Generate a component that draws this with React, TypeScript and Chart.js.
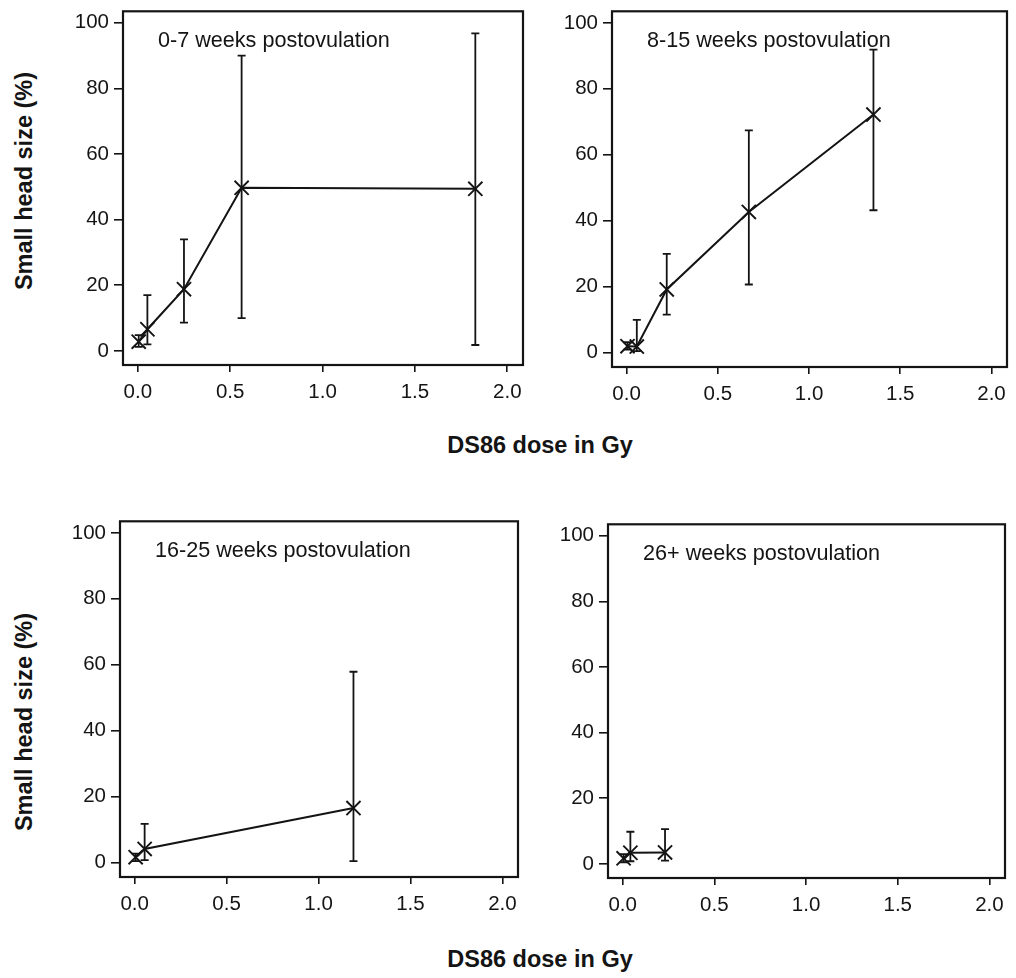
import React, { useEffect, useRef } from "react";
import { Chart, registerables } from "chart.js";

Chart.register(...registerables);

// ---- Data -----------------------------------------------------------
const xTicks = [0, 0.5, 1.0, 1.5, 2.0];
const yTicks = [0, 20, 40, 60, 80, 100];

const panelTitles = [
  "0-7 weeks postovulation",
  "8-15 weeks postovulation",
  "16-25 weeks postovulation",
  "26+ weeks postovulation",
];
const yAxisTitle = "Small head size (%)";
const xAxisTitle = "DS86 dose in Gy";

// 0-7 weeks
const dose0to7 = [0.005, 0.052, 0.25, 0.562, 1.827];
const pct0to7 = [2.8, 6.6, 18.8, 49.7, 49.4];
const lo0to7 = [1.2, 2.0, 8.6, 10.0, 1.8];
const hi0to7 = [4.8, 17.0, 34.0, 90.0, 96.8];

// 8-15 weeks
const dose8to15 = [0.005, 0.056, 0.22, 0.67, 1.353];
const pct8to15 = [2.0, 1.9, 19.2, 42.7, 72.2];
const lo8to15 = [1.0, 0.5, 11.6, 20.7, 43.2];
const hi8to15 = [3.2, 10.0, 30.0, 67.4, 91.9];

// 16-25 weeks
const dose16to25 = [0.005, 0.054, 1.19];
const pct16to25 = [1.7, 4.2, 16.6];
const lo16to25 = [0.5, 0.8, 0.5];
const hi16to25 = [2.8, 11.8, 57.9];

// 26+ weeks
const dose26plus = [0.005, 0.042, 0.231];
const pct26plus = [1.7, 3.4, 3.5];
const lo26plus = [0.5, 0.8, 1.0];
const hi26plus = [3.0, 9.8, 10.6];

// ---- Layout / style ---------------------------------------------------
const X_MIN = -0.08;
const X_MAX = 2.085;
const Y_MIN = -4.3;
const Y_MAX = 103.5;

const INK = "#141414";
const FONT = '"Liberation Sans", Arial, Helvetica, sans-serif';

const PAD_L = 70;
const PAD_T = 16;
const PAD_R = 16;
const PAD_B = 52;

type Frame = { left: number; top: number; w: number; h: number };

interface PanelProps {
  frame: Frame;
  title: string;
  xs: number[];
  ys: number[];
  lo: number[];
  hi: number[];
}

function Panel({ frame, title, xs, ys, lo, hi }: PanelProps) {
  const ref = useRef<HTMLCanvasElement | null>(null);
  const width = frame.w + PAD_L + PAD_R;
  const height = frame.h + PAD_T + PAD_B;

  useEffect(() => {
    if (!ref.current) return;

    const framePlugin = {
      id: "frameBox",
      beforeDatasetsDraw(chart: any) {
        const { ctx, chartArea } = chart;
        ctx.save();
        ctx.strokeStyle = INK;
        ctx.lineWidth = 2.2;
        ctx.strokeRect(
          chartArea.left,
          chartArea.top,
          chartArea.right - chartArea.left,
          chartArea.bottom - chartArea.top
        );
        ctx.restore();
      },
    };

    const errorBarPlugin = {
      id: "errorBars",
      beforeDatasetsDraw(chart: any) {
        const { ctx } = chart;
        const xs_ = chart.scales.x;
        const ys_ = chart.scales.y;
        ctx.save();
        ctx.strokeStyle = INK;
        ctx.lineWidth = 1.8;
        const cap = 4;
        for (let i = 0; i < xs.length; i++) {
          const px = xs_.getPixelForValue(xs[i]);
          const pLo = ys_.getPixelForValue(lo[i]);
          const pHi = ys_.getPixelForValue(hi[i]);
          ctx.beginPath();
          ctx.moveTo(px, pLo);
          ctx.lineTo(px, pHi);
          ctx.moveTo(px - cap, pLo);
          ctx.lineTo(px + cap, pLo);
          ctx.moveTo(px - cap, pHi);
          ctx.lineTo(px + cap, pHi);
          ctx.stroke();
        }
        ctx.restore();
      },
    };

    const titlePlugin = {
      id: "panelTitle",
      afterDraw(chart: any) {
        const { ctx, chartArea } = chart;
        ctx.save();
        ctx.fillStyle = INK;
        ctx.font = `21.6px ${FONT}`;
        ctx.textAlign = "left";
        ctx.textBaseline = "middle";
        ctx.fillText(title, chartArea.left + 35, chartArea.top + 30);
        ctx.restore();
      },
    };

    const chart = new Chart(ref.current, {
      type: "line",
      data: {
        datasets: [
          {
            data: xs.map((x, i) => ({ x, y: ys[i] })),
            borderColor: INK,
            borderWidth: 2,
            pointStyle: "crossRot",
            pointRadius: 10,
            pointBorderWidth: 1.9,
            pointBorderColor: INK,
            pointBackgroundColor: INK,
            tension: 0,
            fill: false,
          },
        ],
      },
      options: {
        responsive: false,
        animation: false,
        events: [],
        layout: { padding: { top: PAD_T, right: PAD_R, left: 0, bottom: 0 } },
        plugins: {
          legend: { display: false },
          tooltip: { enabled: false },
          title: { display: false },
        },
        scales: {
          x: {
            type: "linear",
            min: X_MIN,
            max: X_MAX,
            afterBuildTicks: (s: any) => {
              s.ticks = xTicks.map((v) => ({ value: v }));
            },
            afterFit: (s: any) => {
              s.height = PAD_B;
            },
            grid: {
              drawOnChartArea: false,
              drawTicks: true,
              tickLength: 7,
              color: INK,
              tickColor: INK,
              lineWidth: 1.6,
            },
            border: { display: false },
            ticks: {
              padding: 8,
              color: INK,
              font: { family: FONT, size: 20.5 },
              maxRotation: 0,
              autoSkip: false,
              callback: (v: any) => Number(v).toFixed(1),
            },
          },
          y: {
            type: "linear",
            min: Y_MIN,
            max: Y_MAX,
            afterBuildTicks: (s: any) => {
              s.ticks = yTicks.map((v) => ({ value: v }));
            },
            afterFit: (s: any) => {
              s.width = PAD_L;
            },
            grid: {
              drawOnChartArea: false,
              drawTicks: true,
              tickLength: 9,
              color: INK,
              tickColor: INK,
              lineWidth: 1.6,
            },
            border: { display: false },
            ticks: {
              padding: 5,
              color: INK,
              font: { family: FONT, size: 20.5 },
              autoSkip: false,
              callback: (v: any) => String(v),
            },
          },
        },
      },
      plugins: [framePlugin, errorBarPlugin, titlePlugin],
    } as any);

    return () => chart.destroy();
  }, [frame, title, xs, ys, lo, hi]);

  return (
    <canvas
      ref={ref}
      width={width}
      height={height}
      style={{
        position: "absolute",
        left: frame.left - PAD_L,
        top: frame.top - PAD_T,
        width,
        height,
      }}
    />
  );
}

const frames: Frame[] = [
  { left: 123, top: 10, w: 400, h: 355 },
  { left: 612, top: 10, w: 395, h: 357 },
  { left: 120, top: 520, w: 398, h: 357 },
  { left: 608, top: 523, w: 397, h: 355 },
];

const axisTitleStyle: React.CSSProperties = {
  position: "absolute",
  fontFamily: FONT,
  fontWeight: "bold",
  fontSize: 23.5,
  color: INK,
  whiteSpace: "nowrap",
  lineHeight: 1,
};

export default function App() {
  return (
    <div
      style={{
        position: "absolute",
        left: 0,
        top: 0,
        width: 1016,
        height: 978,
        background: "#ffffff",
        overflow: "hidden",
      }}
    >
      <Panel frame={frames[0]} title={panelTitles[0]} xs={dose0to7} ys={pct0to7} lo={lo0to7} hi={hi0to7} />
      <Panel frame={frames[1]} title={panelTitles[1]} xs={dose8to15} ys={pct8to15} lo={lo8to15} hi={hi8to15} />
      <Panel frame={frames[2]} title={panelTitles[2]} xs={dose16to25} ys={pct16to25} lo={lo16to25} hi={hi16to25} />
      <Panel frame={frames[3]} title={panelTitles[3]} xs={dose26plus} ys={pct26plus} lo={lo26plus} hi={hi26plus} />

      <div style={{ ...axisTitleStyle, left: 25, top: 181, transform: "translate(-50%, -50%) rotate(-90deg)" }}>
        {yAxisTitle}
      </div>
      <div style={{ ...axisTitleStyle, left: 25, top: 722, transform: "translate(-50%, -50%) rotate(-90deg)" }}>
        {yAxisTitle}
      </div>
      <div style={{ ...axisTitleStyle, left: 540, top: 446, transform: "translate(-50%, -50%)" }}>
        {xAxisTitle}
      </div>
      <div style={{ ...axisTitleStyle, left: 540, top: 960, transform: "translate(-50%, -50%)" }}>
        {xAxisTitle}
      </div>
    </div>
  );
}
